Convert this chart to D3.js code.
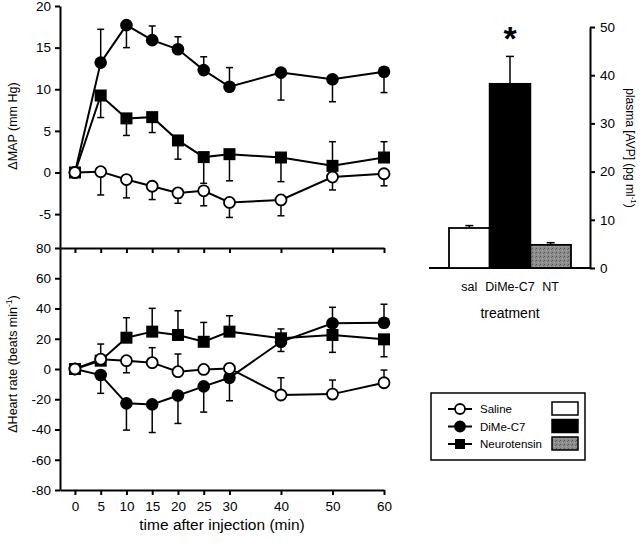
<!DOCTYPE html>
<html>
<head>
<meta charset="utf-8">
<script src="https://cdn.jsdelivr.net/npm/d3@7"></script>
<style>
  body { margin: 0; background: #fff; }
  svg { font-family: "Liberation Sans", Arial, sans-serif; }
  .axis path, .axis line { stroke: #000; stroke-width: 2; }
  .axis text { font-size: 13px; fill: #000; }
</style>
</head>
<body>
<svg width="640" height="543"></svg>
<script>
// time points (min)
var times = [0, 5, 10, 15, 20, 25, 30, 40, 50, 60];

// delta MAP (mm Hg); err is signed: + drawn up, - drawn down
var mapSaline = [0, 0.1, -0.85, -1.65, -2.45, -2.2, -3.6, -3.3, -0.55, -0.15];
var mapSalineErr = [0, -2.8, -2.2, -1.6, -1.25, -1.8, -1.8, -1.9, -1.55, -1.45];
var mapDime = [0, 13.2, 17.7, 15.9, 14.8, 12.3, 10.3, 12.0, 11.2, 12.1];
var mapDimeErr = [0, 4.0, -2.7, 1.7, 1.5, 1.6, 2.3, -3.3, -2.7, -2.5];
var mapNt = [0, 9.25, 6.5, 6.65, 3.85, 1.85, 2.2, 1.8, 0.8, 1.8];
var mapNtErr = [0, -2.65, -2.05, -1.85, -2.25, -3.15, -3.2, -2.9, 2.9, 1.9];

// delta heart rate (beats/min)
var hrSaline = [0, 6.5, 5.5, 4.2, -1.8, -0.3, 0.4, -17.2, -16.6, -9.1];
var hrSalineErr = [0, 10, -8, 9.9, 11.7, 0, 0, 11.4, 9.3, 8.4];
var hrDime = [0, -4, -22.7, -23.4, -17.5, -11.5, -5.8, 18, 30.2, 30.6];
var hrDimeErr = [0, -12.1, -17.7, -18.6, -18.5, -17, -15.2, -6.4, 10.6, 12.2];
var hrNt = [0, 5.5, 20.7, 24.7, 22.5, 18, 24.7, 20.3, 22.5, 19.6];
var hrNtErr = [0, 0, 13.2, 15.4, 16, 12.8, 10.5, 6.2, -11.5, -11.5];

// plasma AVP bars
var treatments = ["sal", "DiMe-C7", "NT"];
var avp = [8.3, 38.2, 4.8];
var avpErr = [0.5, 5.7, 0.45];

var mapTicks = [-5, 0, 5, 10, 15, 20];
var hrTicks = [-80, -60, -40, -20, 0, 20, 40, 60, 80];
var avpTicks = [0, 10, 20, 30, 40, 50];

var svg = d3.select("svg");
var plain = function(d) { return String(d); };   // hyphen minus, like the original

var defs = svg.append("defs");
var pat = defs.append("pattern")
    .attr("id", "grain").attr("width", 4).attr("height", 4)
    .attr("patternUnits", "userSpaceOnUse");
pat.append("rect").attr("width", 4).attr("height", 4).attr("fill", "#8c8c8c");
pat.append("rect").attr("x", 0).attr("y", 0).attr("width", 1).attr("height", 1).attr("fill", "#5a5a5a");
pat.append("rect").attr("x", 2).attr("y", 2).attr("width", 1).attr("height", 1).attr("fill", "#b0b0b0");
pat.append("rect").attr("x", 3).attr("y", 1).attr("width", 1).attr("height", 1).attr("fill", "#666");

var x = d3.scaleLinear().domain([-2.9, 60]).range([60, 384]);
var yMap = d3.scaleLinear().domain([-9.07, 20]).range([248, 6]);
var yHr = d3.scaleLinear().domain([-80, 80]).range([490, 248]);

// axes, top panel
svg.append("g").attr("class", "axis")
    .attr("transform", "translate(60,0)")
    .call(d3.axisLeft(yMap).tickValues(mapTicks).tickFormat(plain).tickSize(5).tickSizeOuter(0).tickPadding(4));
svg.append("g").attr("class", "axis")
    .attr("transform", "translate(0,248)")
    .call(d3.axisBottom(x).tickValues(times).tickSize(5).tickSizeOuter(0).tickFormat(""));

// axes, bottom panel
svg.append("g").attr("class", "axis")
    .attr("transform", "translate(60,0)")
    .call(d3.axisLeft(yHr).tickValues(hrTicks).tickFormat(plain).tickSize(5).tickSizeOuter(0).tickPadding(4));
svg.append("g").attr("class", "axis")
    .attr("transform", "translate(0,490)")
    .call(d3.axisBottom(x).tickValues(times).tickFormat(plain).tickSize(5).tickSizeOuter(0).tickPadding(6));

svg.selectAll(".axis text").style("font-size", "13.5px");

// axis titles
svg.append("text")
    .attr("transform", "translate(17,126) rotate(-90)")
    .attr("text-anchor", "middle").style("font-size", "12.5px")
    .text("\u0394MAP (mm Hg)");
var hrTitle = svg.append("text")
    .attr("transform", "translate(17,364) rotate(-90)")
    .attr("text-anchor", "middle").style("font-size", "12.5px");
hrTitle.append("tspan").text("\u0394Heart rate (beats min");
hrTitle.append("tspan").attr("dy", -5).style("font-size", "8.5px").text("-1");
hrTitle.append("tspan").attr("dy", 5).text(")");
svg.append("text")
    .attr("x", 222).attr("y", 530)
    .attr("text-anchor", "middle").style("font-size", "15.5px")
    .text("time after injection (min)");

function drawSeries(yScale, vals, errs, kind) {
    var pts = times.map(function(t, i) { return {t: t, v: vals[i], e: errs[i]}; });
    var g = svg.append("g");
    var line = d3.line()
        .x(function(d) { return x(d.t); })
        .y(function(d) { return yScale(d.v); });
    g.append("path").datum(pts)
        .attr("d", line).attr("fill", "none")
        .attr("stroke", "#000").attr("stroke-width", 2);
    var eb = g.selectAll(".eb").data(pts.filter(function(d) { return d.e !== 0; }))
        .enter().append("g");
    eb.append("line")
        .attr("x1", function(d) { return x(d.t); })
        .attr("x2", function(d) { return x(d.t); })
        .attr("y1", function(d) { return yScale(d.v); })
        .attr("y2", function(d) { return yScale(d.v + d.e); })
        .attr("stroke", "#000").attr("stroke-width", 1.5);
    eb.append("line")
        .attr("x1", function(d) { return x(d.t) - 3.5; })
        .attr("x2", function(d) { return x(d.t) + 3.5; })
        .attr("y1", function(d) { return yScale(d.v + d.e); })
        .attr("y2", function(d) { return yScale(d.v + d.e); })
        .attr("stroke", "#000").attr("stroke-width", 1.5);
    if (kind === "square") {
        g.selectAll("rect").data(pts).enter().append("rect")
            .attr("x", function(d) { return x(d.t) - 6; })
            .attr("y", function(d) { return yScale(d.v) - 6; })
            .attr("width", 12).attr("height", 12)
            .attr("fill", "#000");
    } else {
        g.selectAll("circle").data(pts).enter().append("circle")
            .attr("cx", function(d) { return x(d.t); })
            .attr("cy", function(d) { return yScale(d.v); })
            .attr("r", kind === "open" ? 5.5 : 6.3)
            .attr("fill", kind === "open" ? "#fff" : "#000")
            .attr("stroke", "#000").attr("stroke-width", kind === "open" ? 1.8 : 0);
    }
}

drawSeries(yMap, mapNt, mapNtErr, "square");
drawSeries(yMap, mapDime, mapDimeErr, "filled");
drawSeries(yMap, mapSaline, mapSalineErr, "open");
drawSeries(yHr, hrNt, hrNtErr, "square");
drawSeries(yHr, hrDime, hrDimeErr, "filled");
drawSeries(yHr, hrSaline, hrSalineErr, "open");

// bar chart
var xb = d3.scaleBand().domain(treatments).range([449, 571]).padding(0);
var yb = d3.scaleLinear().domain([0, 50]).range([268, 27]);
var barFill = ["#fff", "#000", "url(#grain)"];

svg.append("line")
    .attr("x1", 429).attr("x2", 590).attr("y1", yb(0)).attr("y2", yb(0))
    .attr("stroke", "#000").attr("stroke-width", 2);

var bars = svg.append("g");
bars.selectAll(".err").data(treatments).enter().append("g")
    .each(function(d, i) {
        var cx = xb(d) + xb.bandwidth() / 2;
        var g = d3.select(this);
        g.append("line").attr("x1", cx).attr("x2", cx)
            .attr("y1", yb(avp[i])).attr("y2", yb(avp[i] + avpErr[i]))
            .attr("stroke", "#000").attr("stroke-width", 1.5);
        g.append("line").attr("x1", cx - 4).attr("x2", cx + 4)
            .attr("y1", yb(avp[i] + avpErr[i])).attr("y2", yb(avp[i] + avpErr[i]))
            .attr("stroke", "#000").attr("stroke-width", 1.5);
    });
bars.selectAll("rect").data(treatments).enter().append("rect")
    .attr("x", function(d) { return xb(d); })
    .attr("y", function(d, i) { return yb(avp[i]); })
    .attr("width", xb.bandwidth())
    .attr("height", function(d, i) { return yb(0) - yb(avp[i]); })
    .attr("fill", function(d, i) { return barFill[i]; })
    .attr("stroke", "#000").attr("stroke-width", 1.8);

svg.append("g").attr("class", "axis")
    .attr("transform", "translate(590,0)")
    .call(d3.axisRight(yb).tickValues(avpTicks).tickSize(5).tickSizeOuter(0).tickPadding(5))
    .selectAll("text").style("font-size", "13.5px");

svg.append("g").selectAll("text").data(treatments).enter().append("text")
    .attr("x", function(d) { return xb(d) + xb.bandwidth() / 2; })
    .attr("y", 291)
    .attr("text-anchor", "middle").style("font-size", "12.5px")
    .text(function(d) { return d; });
svg.append("text").attr("x", 510).attr("y", 318)
    .attr("text-anchor", "middle").style("font-size", "14px")
    .text("treatment");
svg.append("text").attr("x", xb("DiMe-C7") + xb.bandwidth() / 2).attr("y", 50)
    .attr("text-anchor", "middle").style("font-size", "34px").style("font-weight", "bold")
    .text("*");

var avpTitle = svg.append("text")
    .attr("transform", "translate(626,148) rotate(90)")
    .attr("text-anchor", "middle").style("font-size", "12px");
avpTitle.append("tspan").text("plasma [AVP] (pg ml");
avpTitle.append("tspan").attr("dy", -5).style("font-size", "8px").text("-1");
avpTitle.append("tspan").attr("dy", 5).text(")");

// legend
var legNames = ["Saline", "DiMe-C7", "Neurotensin"];
var legKinds = ["open", "filled", "square"];
var leg = svg.append("g");
leg.append("rect").attr("x", 431).attr("y", 393).attr("width", 154).attr("height", 67)
    .attr("fill", "#fff").attr("stroke", "#000").attr("stroke-width", 1.5);
legNames.forEach(function(name, i) {
    var cy = 409 + i * 17.5;
    leg.append("line").attr("x1", 448).attr("x2", 472).attr("y1", cy).attr("y2", cy)
        .attr("stroke", "#000").attr("stroke-width", 2);
    if (legKinds[i] === "square") {
        leg.append("rect").attr("x", 455).attr("y", cy - 5).attr("width", 10).attr("height", 10).attr("fill", "#000");
    } else {
        leg.append("circle").attr("cx", 460).attr("cy", cy).attr("r", 5)
            .attr("fill", legKinds[i] === "open" ? "#fff" : "#000")
            .attr("stroke", "#000").attr("stroke-width", 1.8);
    }
    leg.append("text").attr("x", 480).attr("y", cy + 4).style("font-size", "11.5px").text(name);
    leg.append("rect").attr("x", 552).attr("y", cy - 7).attr("width", 26).attr("height", 13)
        .attr("fill", barFill[i]).attr("stroke", "#000").attr("stroke-width", 1.5);
});
</script>
</body>
</html>
